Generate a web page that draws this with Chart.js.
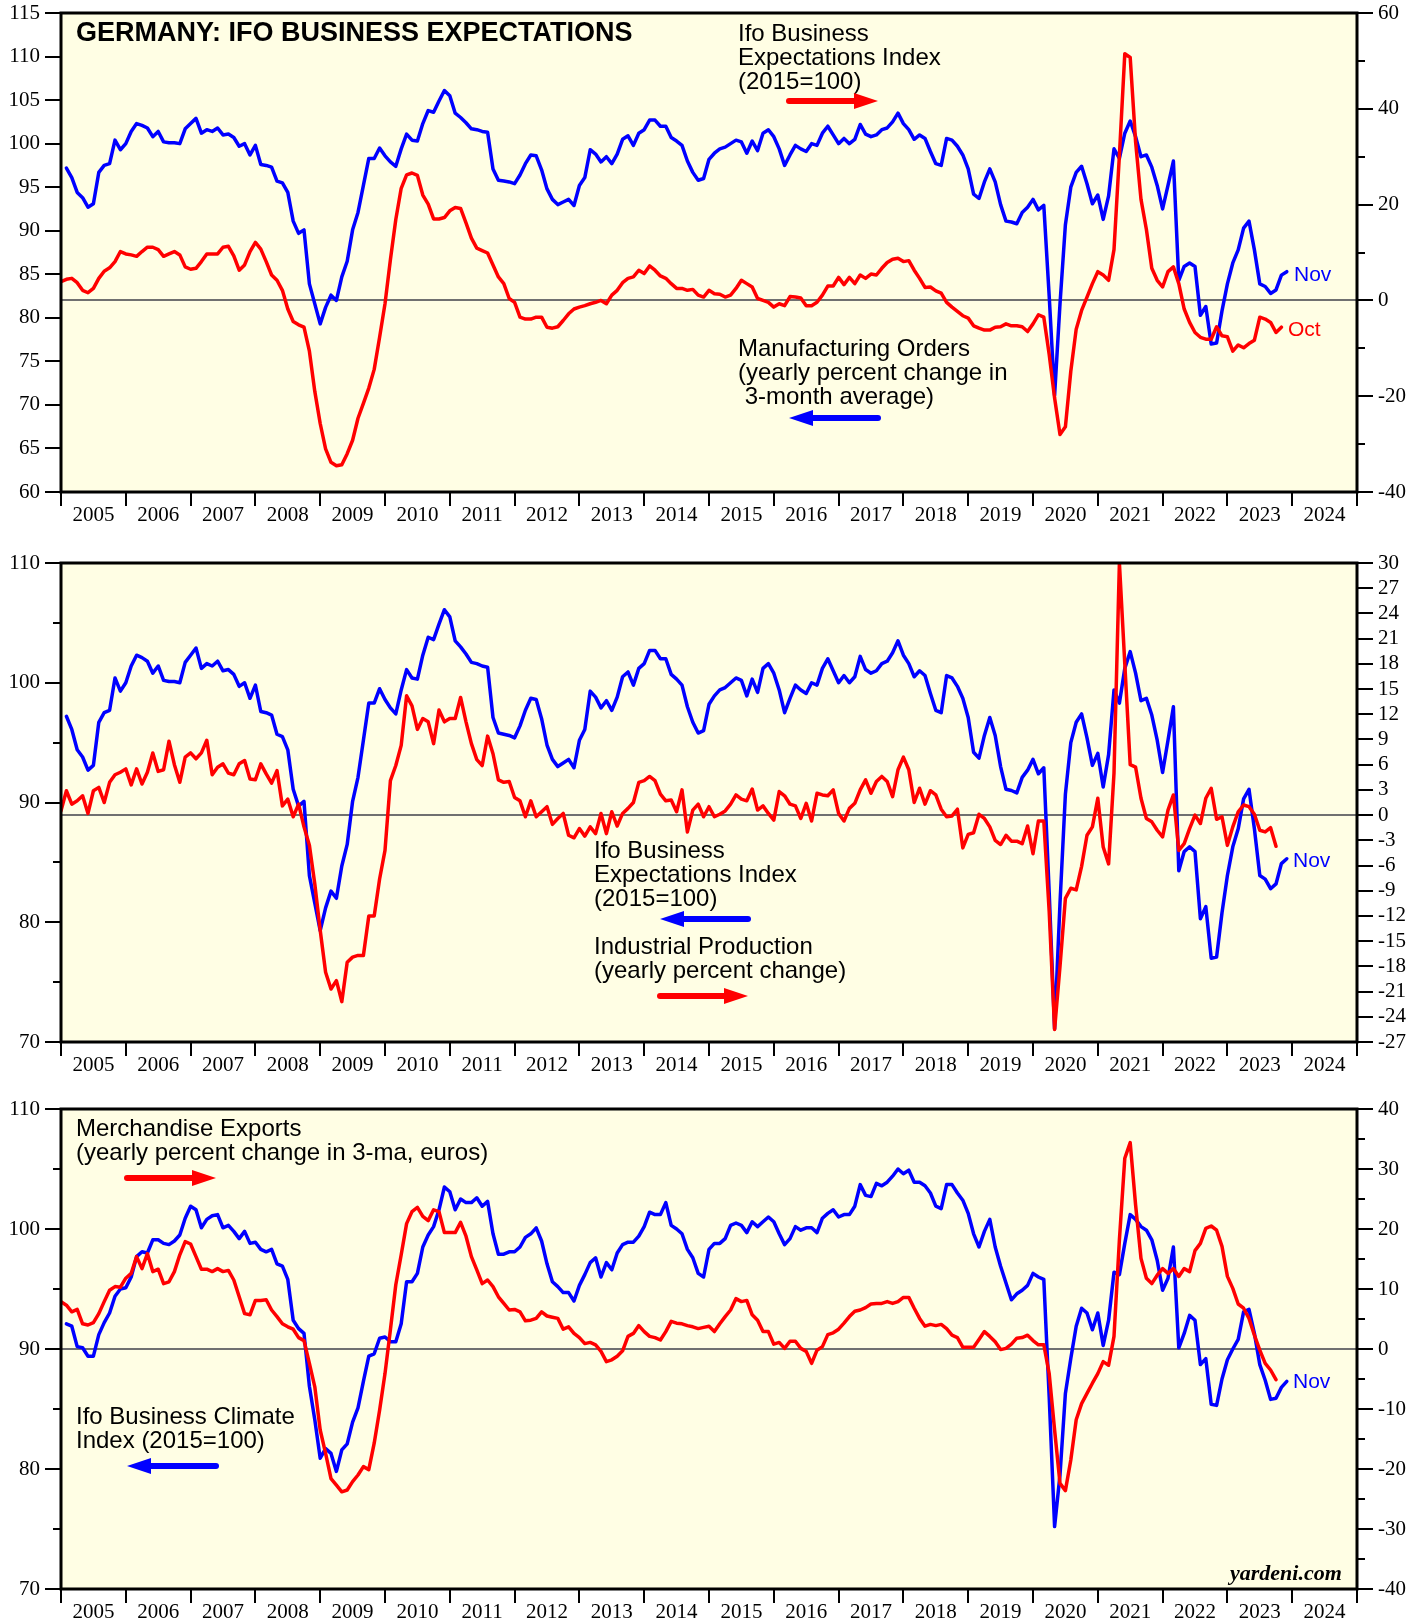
<!DOCTYPE html>
<html>
<head>
<meta charset="utf-8">
<script src="https://cdn.jsdelivr.net/npm/chart.js@4/dist/chart.umd.min.js"></script>
<style>
  body { margin: 0; background: #fff; width: 1424px; height: 1621px; position: relative; overflow: hidden; }
  .panel { position: absolute; left: 0; width: 1424px; }
  .t { position: absolute; white-space: pre; font-family: "Liberation Sans", Arial, sans-serif; font-size: 24px; line-height: 24px; color: #000; }
  .end { position: absolute; white-space: pre; font-family: "Liberation Sans", Arial, sans-serif; font-size: 21px; line-height: 21px; }
  svg { position: absolute; left: 0; top: 0; pointer-events: none; }
</style>
</head>
<body>
<div class="panel" style="top:-20px;height:550px"><canvas id="c1" width="1424" height="550"></canvas></div>
<div class="panel" style="top:530px;height:550px"><canvas id="c2" width="1424" height="550"></canvas></div>
<div class="panel" style="top:1080px;height:541px"><canvas id="c3" width="1424" height="541"></canvas></div>

<!-- panel 1 texts -->
<div class="t" style="left:76px;top:19px;font-weight:bold;font-size:27px;line-height:27px">GERMANY: IFO BUSINESS EXPECTATIONS</div>
<div class="t" style="left:738px;top:21px">Ifo Business
Expectations Index
(2015=100)</div>
<div class="t" style="left:738px;top:336px">Manufacturing Orders
(yearly percent change in
 3-month average)</div>
<div class="end" style="left:1294px;top:263px;color:#0000ff">Nov</div>
<div class="end" style="left:1288px;top:318px;color:#ff0000">Oct</div>

<!-- panel 2 texts -->
<div class="t" style="left:594px;top:838px">Ifo Business
Expectations Index
(2015=100)</div>
<div class="t" style="left:594px;top:934px">Industrial Production
(yearly percent change)</div>
<div class="end" style="left:1293px;top:849px;color:#0000ff">Nov</div>

<!-- panel 3 texts -->
<div class="t" style="left:76px;top:1116px">Merchandise Exports
(yearly percent change in 3-ma, euros)</div>
<div class="t" style="left:76px;top:1404px">Ifo Business Climate
Index (2015=100)</div>
<div class="end" style="left:1293px;top:1370px;color:#0000ff">Nov</div>
<div class="t" style="left:1230px;top:1562px;font-family:'Liberation Serif',serif;font-weight:bold;font-style:italic;font-size:22px;line-height:22px">yardeni.com</div>

<svg width="1424" height="1621" id="arrows"></svg>

<script>
// ---- data (monthly, Jan 2005 onward; red series begin Dec 2004) ----
const firstYear = 2005;
const lastYear = 2024;

// Ifo business expectations, 2015=100 (Jan 2005 - Nov 2023)
const ifoExpectations = [
  97.2, 96.1, 94.4, 93.8, 92.7, 93.1, 96.7, 97.5, 97.7, 100.4, 99.3, 100.0,
  101.4, 102.3, 102.1, 101.8, 100.8, 101.4, 100.2, 100.1, 100.1, 100.0, 101.7, 102.3,
  102.9, 101.2, 101.6, 101.4, 101.8, 101.0, 101.1, 100.7, 99.7, 100.0, 98.7, 99.8,
  97.6, 97.5, 97.3, 95.7, 95.5, 94.4, 91.1, 89.7, 90.1, 83.9, 81.6, 79.3,
  81.2, 82.6, 82.0, 84.7, 86.5, 90.1, 92.1, 95.2, 98.3, 98.3, 99.5, 98.6,
  97.9, 97.4, 99.4, 101.1, 100.4, 100.3, 102.3, 103.8, 103.6, 104.9, 106.1, 105.5,
  103.5, 103.0, 102.4, 101.7, 101.6, 101.4, 101.3, 97.1, 95.8, 95.7, 95.6, 95.4,
  96.4, 97.7, 98.7, 98.6, 97.0, 94.8, 93.6, 93.0, 93.3, 93.6, 92.9, 95.2,
  96.1, 99.3, 98.8, 97.9, 98.5, 97.7, 98.8, 100.5, 100.9, 99.8, 101.2, 101.6,
  102.7, 102.7, 102.0, 102.0, 100.7, 100.3, 99.8, 98.0, 96.7, 95.8, 96.0, 98.2,
  98.9, 99.4, 99.6, 100.0, 100.4, 100.2, 98.9, 100.3, 99.2, 101.2, 101.6, 100.8,
  99.4, 97.5, 98.7, 99.8, 99.4, 99.1, 100.0, 99.8, 101.2, 102.0, 101.0, 100.0,
  100.6, 100.0, 100.5, 102.2, 101.1, 100.8, 101.0, 101.6, 101.8, 102.5, 103.5, 102.3,
  101.6, 100.5, 101.0, 100.6, 99.1, 97.7, 97.5, 100.6, 100.4, 99.7, 98.7, 97.1,
  94.2, 93.7, 95.6, 97.1, 95.6, 93.0, 91.1, 91.0, 90.8, 92.1, 92.7, 93.6,
  92.4, 92.9, 82.5, 71.1, 81.6, 90.7, 95.0, 96.7, 97.4, 95.4, 93.1, 94.1,
  91.3, 94.0, 99.4, 98.3, 101.2, 102.6, 100.8, 98.5, 98.7, 97.3, 95.2, 92.5,
  95.2, 98.0, 84.3, 85.9, 86.3, 85.9, 80.3, 81.3, 77.0, 77.1, 80.8, 83.9,
  86.3, 87.8, 90.3, 91.1, 87.8, 83.9, 83.6, 82.8, 83.2, 84.9, 85.3
];

// Manufacturing orders, y/y % in 3-month average (Dec 2004 - Oct 2023)
const mfgOrders = [
  3.9,
  4.4, 4.6, 3.7, 2.1, 1.6, 2.5, 4.6, 6.1, 6.8, 8.1, 10.2, 9.7,
  9.5, 9.2, 10.2, 11.1, 11.1, 10.6, 9.2, 9.7, 10.2, 9.5, 7.0, 6.5,
  6.7, 8.1, 9.7, 9.7, 9.7, 11.1, 11.3, 9.3, 6.3, 7.4, 10.2, 12.1,
  10.7, 8.1, 5.3, 4.2, 2.1, -1.8, -4.4, -5.1, -5.6, -10.6, -19.0, -25.7,
  -31.0, -33.8, -34.5, -34.3, -32.0, -29.2, -24.6, -21.5, -18.3, -14.4, -7.7, -0.7,
  8.5, 16.9, 23.4, 26.2, 26.6, 26.1, 22.0, 20.1, 17.0, 17.0, 17.3, 18.7,
  19.4, 19.2, 16.2, 13.0, 10.9, 10.4, 9.9, 7.4, 4.9, 3.5, 0.4, -0.4,
  -3.5, -3.9, -3.9, -3.5, -3.5, -5.6, -5.8, -5.5, -4.2, -2.8, -1.8, -1.4,
  -1.1, -0.7, -0.4, 0.0, -0.7, 1.1, 2.1, 3.7, 4.6, 4.9, 6.3, 5.6,
  7.2, 6.3, 5.1, 4.6, 3.5, 2.5, 2.5, 2.1, 2.3, 1.1, 0.7, 2.1,
  1.4, 1.3, 0.7, 1.1, 2.5, 4.2, 3.5, 2.8, 0.4, 0.0, -0.4, -1.4,
  -0.7, -1.1, 0.8, 0.7, 0.5, -1.1, -1.1, -0.4, 1.1, 3.0, 3.0, 4.8,
  3.3, 4.8, 3.5, 5.3, 4.6, 5.5, 5.3, 6.7, 7.9, 8.6, 8.8, 8.1,
  8.3, 6.3, 4.6, 2.7, 2.8, 2.0, 1.5, -0.4, -1.4, -2.3, -3.2, -3.7,
  -5.3, -5.8, -6.2, -6.2, -5.6, -5.5, -4.9, -5.3, -5.3, -5.5, -6.5, -4.9,
  -3.0, -3.5, -11.3, -20.4, -28.0, -26.4, -14.8, -6.0, -2.1, 0.7, 3.5, 6.0,
  5.3, 4.2, 10.6, 30.3, 51.5, 50.7, 33.1, 21.1, 14.8, 6.7, 4.2, 2.8,
  6.0, 7.0, 3.5, -1.8, -4.6, -6.7, -7.7, -8.1, -8.1, -5.5, -7.4, -7.6,
  -10.6, -9.3, -9.9, -9.0, -8.3, -3.5, -3.9, -4.6, -6.7, -5.6
];

// Industrial production, y/y % (Dec 2004 - Sep 2023)
const industrialProduction = [
  0.5,
  2.9, 1.3, 1.7, 2.3, 0.2, 2.9, 3.3, 1.5, 3.9, 4.8, 5.1, 5.5,
  3.6, 5.5, 3.7, 5.1, 7.4, 5.2, 5.4, 8.8, 6.0, 3.9, 6.9, 7.4,
  6.7, 7.4, 8.9, 4.8, 5.7, 6.1, 5.0, 4.8, 6.1, 6.5, 4.3, 4.2,
  6.1, 4.9, 3.8, 5.3, 1.1, 1.9, -0.2, 1.3, -1.4, -3.6, -8.2, -13.7,
  -18.7, -20.7, -19.7, -22.2, -17.5, -16.9, -16.7, -16.7, -12.0, -12.0, -7.6, -4.2,
  4.1, 5.9, 8.3, 14.2, 13.0, 10.2, 11.5, 11.1, 8.5, 12.5, 11.1, 11.5,
  11.5, 14.0, 11.1, 8.5, 6.6, 5.9, 9.4, 7.3, 4.2, 3.9, 4.0, 2.1,
  1.7, -0.2, 1.7, -0.2, 0.4, 1.0, -1.1, -0.4, 0.2, -2.4, -2.7, -1.6,
  -2.5, -1.4, -2.2, 0.2, -2.2, 0.4, -1.3, 0.2, 0.8, 1.5, 3.9, 4.1,
  4.6, 4.1, 2.5, 1.7, 1.8, 0.4, 3.0, -2.0, 0.6, 1.3, -0.2, 1.0,
  -0.2, 0.1, 0.5, 1.3, 2.4, 1.9, 1.7, 3.1, 0.6, 1.1, 0.2, -0.6,
  2.8, 2.3, 1.3, 1.1, -0.4, 1.4, -0.7, 2.6, 2.4, 2.3, 3.0, 0.2,
  -0.7, 0.8, 1.4, 3.0, 4.2, 2.6, 4.0, 4.6, 4.0, 2.2, 5.4, 6.9,
  5.4, 1.5, 3.2, 1.3, 2.9, 2.4, 0.7, -0.2, -0.1, 0.7, -3.9, -2.3,
  -2.1, 0.1, -0.4, -1.4, -3.0, -3.5, -2.4, -3.1, -3.1, -3.4, -1.3, -4.6,
  -0.7, -0.7, -11.5, -25.5, -18.0, -9.9, -8.7, -8.9, -6.1, -2.4, -1.4, 2.0,
  -3.8, -5.8, 5.0, 30.0, 18.0, 6.0, 5.7, 2.0, -0.4, -0.8, -1.8, -2.6,
  0.6, 2.4, -4.2, -3.4, -1.6, 0.0, -1.0, 2.0, 3.2, -0.5, -0.2, -3.6,
  -1.4, 0.4, 1.2, 1.0, 0.1, -1.8, -2.0, -1.5, -3.7
];

// Ifo business climate, 2015=100 (Jan 2005 - Nov 2023)
const ifoClimate = [
  92.1, 91.9, 90.2, 90.1, 89.4, 89.4, 91.2, 92.2, 93.0, 94.4, 95.0, 95.1,
  96.0, 97.7, 98.1, 98.0, 99.1, 99.1, 98.8, 98.7, 99.0, 99.5, 100.9, 101.9,
  101.6, 100.1, 100.8, 101.1, 101.2, 100.1, 100.3, 99.8, 99.2, 99.8, 98.8, 98.9,
  98.3, 98.1, 98.3, 97.1, 96.9, 95.8, 92.4, 91.7, 91.3, 86.9, 84.1, 80.9,
  81.7, 81.3, 79.8, 81.6, 82.1, 83.9, 85.1, 87.3, 89.4, 89.6, 90.9, 91.0,
  90.6, 90.6, 92.1, 95.6, 95.6, 96.3, 98.5, 99.5, 100.2, 101.6, 103.5, 103.1,
  101.6, 102.5, 102.2, 102.2, 102.6, 101.9, 102.3, 99.6, 97.9, 97.9, 98.1, 98.1,
  98.5, 99.3, 99.6, 100.1, 99.0, 97.1, 95.6, 95.2, 94.7, 94.7, 94.0, 95.3,
  96.2, 97.2, 97.6, 96.0, 97.2, 96.6, 98.0, 98.7, 98.9, 98.9, 99.4, 100.2,
  101.4, 101.2, 101.2, 102.2, 100.3, 100.0, 99.6, 98.3, 97.6, 96.3, 96.0, 98.3,
  98.8, 98.8, 99.2, 100.3, 100.5, 100.3, 99.7, 100.6, 100.2, 100.6, 101.0, 100.6,
  99.6, 98.7, 99.2, 100.2, 99.9, 100.1, 100.1, 99.7, 100.9, 101.3, 101.6, 101.0,
  101.2, 101.2, 101.9, 103.7, 102.8, 102.7, 103.8, 103.6, 103.9, 104.4, 105.0, 104.6,
  104.9, 103.9, 103.9, 103.6, 103.0, 101.9, 101.7, 103.7, 103.7, 103.0, 102.4, 101.3,
  99.6, 98.5, 99.8, 100.8, 98.5, 96.9, 95.5, 94.1, 94.6, 94.9, 95.3, 96.3,
  96.0, 95.8, 86.0, 75.2, 79.5, 86.3, 89.2, 91.9, 93.4, 93.0, 91.6, 93.0,
  90.3, 92.4, 96.4, 96.2, 98.8, 101.2, 100.8, 100.2, 99.9, 99.1, 97.4, 94.9,
  95.9, 98.5, 90.1, 91.3, 92.8, 92.4, 88.7, 89.2, 85.4, 85.3, 87.5, 89.1,
  90.0, 90.8, 93.1, 93.3, 91.3, 88.7, 87.4, 85.8, 85.9, 86.8, 87.3
];

// Merchandise exports, y/y % in 3-month average, euros (Dec 2004 - Sep 2023)
const exportsYoY = [
  7.9,
  7.3, 6.2, 6.6, 4.2, 4.0, 4.4, 5.9, 7.9, 9.8, 10.4, 10.3, 11.8,
  12.6, 15.4, 13.4, 15.9, 12.9, 13.3, 10.9, 11.2, 12.9, 15.7, 17.9, 17.5,
  15.4, 13.3, 13.3, 12.9, 13.4, 12.9, 13.1, 11.5, 8.7, 5.9, 5.7, 8.1,
  8.1, 8.2, 6.5, 5.4, 4.2, 3.7, 3.3, 1.9, 1.4, -2.4, -6.3, -13.5,
  -17.4, -21.6, -22.7, -23.8, -23.5, -22.1, -21.0, -19.6, -20.1, -15.7, -10.2, -4.1,
  3.2, 10.7, 15.7, 20.9, 22.9, 23.6, 22.1, 21.4, 23.2, 22.9, 19.4, 19.4,
  19.4, 21.1, 18.8, 15.4, 13.2, 10.9, 11.5, 10.4, 8.7, 7.6, 6.5, 6.6,
  6.2, 4.7, 4.8, 5.1, 6.2, 5.5, 5.3, 5.1, 3.3, 3.7, 2.6, 1.9,
  0.9, 1.1, 0.7, -0.4, -2.1, -1.8, -1.2, -0.3, 2.1, 2.6, 3.9, 2.9,
  2.1, 1.9, 1.5, 2.9, 4.6, 4.3, 4.2, 3.9, 3.7, 3.4, 3.6, 3.8,
  2.9, 4.2, 5.4, 6.5, 8.4, 7.9, 8.1, 5.7, 4.8, 2.9, 2.9, 0.8,
  1.1, 0.1, 1.3, 1.3, 0.1, -0.4, -2.4, -0.2, 0.4, 2.4, 2.7, 3.3,
  4.3, 5.4, 6.3, 6.5, 6.9, 7.5, 7.6, 7.6, 7.9, 7.6, 7.9, 8.6,
  8.6, 6.8, 5.1, 3.8, 4.1, 3.9, 4.1, 3.4, 2.3, 1.9, 0.3, 0.3,
  0.3, 1.6, 2.9, 2.1, 1.2, -0.1, 0.1, 0.8, 1.8, 1.9, 2.3, 1.4,
  0.7, 0.7, -4.1, -13.5, -22.4, -23.6, -18.5, -11.8, -9.1, -7.4, -5.7, -4.1,
  -2.1, -2.7, 2.1, 18.2, 31.8, 34.4, 24.0, 15.1, 11.8, 10.9, 12.3, 13.4,
  12.6, 13.4, 12.1, 13.4, 12.9, 16.4, 17.6, 20.1, 20.5, 19.8, 17.1, 12.1,
  10.1, 7.5, 6.8, 5.1, 2.3, -0.2, -2.4, -3.5, -5.1
];

// axis ticks
const p1LeftTicks = [60, 65, 70, 75, 80, 85, 90, 95, 100, 105, 110, 115];
const p1RightTicks = [-40, -20, 0, 20, 40, 60];
const p1RightMinor = [-30, -10, 10, 30, 50];
const p2LeftTicks = [70, 80, 90, 100, 110];
const p2LeftMinor = [75, 85, 95, 105];
const p2RightTicks = [-27, -24, -21, -18, -15, -12, -9, -6, -3, 0, 3, 6, 9, 12, 15, 18, 21, 24, 27, 30];
const p3LeftTicks = [70, 80, 90, 100, 110];
const p3LeftMinor = [75, 85, 95, 105];
const p3RightTicks = [-40, -30, -20, -10, 0, 10, 20, 30, 40];
const p3RightMinor = [-35, -25, -15, -5, 5, 15, 25, 35];

const years = [];
for (let y = firstYear; y <= lastYear; y++) years.push(y);

// month index 0 = Jan 2005, plotted at month end
function monthPoints(values, startMonth) {
  return values.map((v, i) => ({ x: firstYear + (startMonth + i + 1) / 12, y: v }));
}

Chart.defaults.font.family = "'Liberation Serif', 'Times New Roman', serif";
Chart.defaults.color = "#000";

const BG = "#fffee4";
const BLUE = "#0000ff";
const RED = "#ff0000";

// fond jaune + cadre noir
const frame = {
  id: "frame",
  beforeDraw(chart) {
    const a = chart.chartArea, ctx = chart.ctx;
    ctx.save();
    ctx.fillStyle = BG;
    ctx.fillRect(a.left, a.top, a.right - a.left, a.bottom - a.top);
    ctx.restore();
  },
  afterDraw(chart) {
    const a = chart.chartArea, ctx = chart.ctx;
    ctx.save();
    ctx.strokeStyle = "#000";
    ctx.lineWidth = 3;
    ctx.strokeRect(a.left, a.top, a.right - a.left, a.bottom - a.top);
    ctx.restore();
  }
};

// short unlabeled ticks
const minorTicks = {
  id: "minorTicks",
  afterDraw(chart, args, opts) {
    const ctx = chart.ctx;
    ctx.save();
    ctx.strokeStyle = "#000";
    ctx.lineWidth = 2;
    Object.entries(opts.values || {}).forEach(([id, vals]) => {
      const s = chart.scales[id];
      vals.forEach(v => {
        const y = Math.round(s.getPixelForValue(v));
        ctx.beginPath();
        if (s.position === "left") { ctx.moveTo(s.right - 8, y); ctx.lineTo(s.right, y); }
        else { ctx.moveTo(s.left, y); ctx.lineTo(s.left + 8, y); }
        ctx.stroke();
      });
    });
    ctx.restore();
  }
};

function makeChart(canvasId, cfg) {
  const yTicks = arr => s => { s.ticks = arr.map(v => ({ value: v })); };
  return new Chart(document.getElementById(canvasId), {
    type: "line",
    data: {
      datasets: [
        { data: monthPoints(cfg.red, -1), yAxisID: "y1", borderColor: RED, borderWidth: 3.5 },
        { data: monthPoints(cfg.blue, 0), yAxisID: "y", borderColor: BLUE, borderWidth: 3.5 }
      ]
    },
    options: {
      responsive: false,
      animation: false,
      parsing: false,
      normalized: true,
      elements: { point: { radius: 0 }, line: { tension: 0, borderJoinStyle: "round", borderCapStyle: "round" } },
      layout: { padding: { top: cfg.padTop, left: 0, right: 0, bottom: 0 } },
      plugins: {
        legend: { display: false },
        tooltip: { enabled: false },
        minorTicks: { values: cfg.minor }
      },
      scales: {
        x: {
          type: "linear",
          position: "bottom",
          min: firstYear,
          max: lastYear + 1,
          afterBuildTicks: s => {
            const t = [];
            years.forEach(y => { t.push({ value: y }); t.push({ value: y + 0.5 }); });
            t.push({ value: lastYear + 1 });
            s.ticks = t;
          },
          afterFit: s => { s.height = cfg.xAxisH; },
          border: { display: false },
          grid: {
            drawOnChartArea: false,
            tickLength: 14,
            lineWidth: 2,
            tickColor: c => Number.isInteger(c.tick.value) ? "#000" : "rgba(0,0,0,0)"
          },
          ticks: {
            autoSkip: false,
            maxRotation: 0,
            padding: -3,
            font: { size: 21 },
            callback: v => Number.isInteger(v) ? "" : String(Math.floor(v))
          }
        },
        y: {
          position: "left",
          min: cfg.left[0],
          max: cfg.left[cfg.left.length - 1],
          afterBuildTicks: yTicks(cfg.left),
          afterFit: s => { s.width = 61; },
          border: { display: false },
          grid: { drawOnChartArea: false, tickLength: 16, lineWidth: 2, tickColor: "#000" },
          ticks: { autoSkip: false, padding: 5, font: { size: 21 }, callback: v => String(v) }
        },
        y1: {
          position: "right",
          min: cfg.right[0],
          max: cfg.right[cfg.right.length - 1],
          afterBuildTicks: yTicks(cfg.right),
          afterFit: s => { s.width = 67; },
          border: { display: false },
          grid: {
            drawOnChartArea: true,
            tickLength: 16,
            lineWidth: 2,
            tickColor: "#000",
            color: c => (c.tick && c.tick.value === 0) ? "#707070" : "rgba(0,0,0,0)"
          },
          ticks: { autoSkip: false, padding: 5, font: { size: 21 }, callback: v => String(v) }
        }
      }
    },
    plugins: [frame, minorTicks]
  });
}

makeChart("c1", {
  padTop: 33, xAxisH: 38,
  left: p1LeftTicks, right: p1RightTicks,
  minor: { y1: p1RightMinor },
  blue: ifoExpectations, red: mfgOrders
});

makeChart("c2", {
  padTop: 33, xAxisH: 38,
  left: p2LeftTicks, right: p2RightTicks,
  minor: { y: p2LeftMinor },
  blue: ifoExpectations, red: industrialProduction
});

makeChart("c3", {
  padTop: 29, xAxisH: 32,
  left: p3LeftTicks, right: p3RightTicks,
  minor: { y: p3LeftMinor, y1: p3RightMinor },
  blue: ifoClimate, red: exportsYoY
});

// flèches des légendes (page coords)
const arrows = [
  { x1: 789, x2: 878, y: 101, dir: 1, color: RED },
  { x1: 789, x2: 878, y: 418, dir: -1, color: BLUE },
  { x1: 660, x2: 748, y: 919, dir: -1, color: BLUE },
  { x1: 660, x2: 748, y: 996, dir: 1, color: RED },
  { x1: 127, x2: 216, y: 1178, dir: 1, color: RED },
  { x1: 127, x2: 216, y: 1466, dir: -1, color: BLUE }
];
const svg = document.getElementById("arrows");
const NS = "http://www.w3.org/2000/svg";
arrows.forEach(a => {
  const head = 24, half = 8;
  const tip = a.dir > 0 ? a.x2 : a.x1;
  const base = tip - a.dir * head;
  const tail = a.dir > 0 ? a.x1 : a.x2;
  const line = document.createElementNS(NS, "line");
  line.setAttribute("x1", tail); line.setAttribute("y1", a.y);
  line.setAttribute("x2", base); line.setAttribute("y2", a.y);
  line.setAttribute("stroke", a.color); line.setAttribute("stroke-width", 6);
  line.setAttribute("stroke-linecap", "round");
  svg.appendChild(line);
  const poly = document.createElementNS(NS, "polygon");
  poly.setAttribute("points", `${tip},${a.y} ${base},${a.y - half} ${base},${a.y + half}`);
  poly.setAttribute("fill", a.color);
  svg.appendChild(poly);
});
</script>
</body>
</html>
